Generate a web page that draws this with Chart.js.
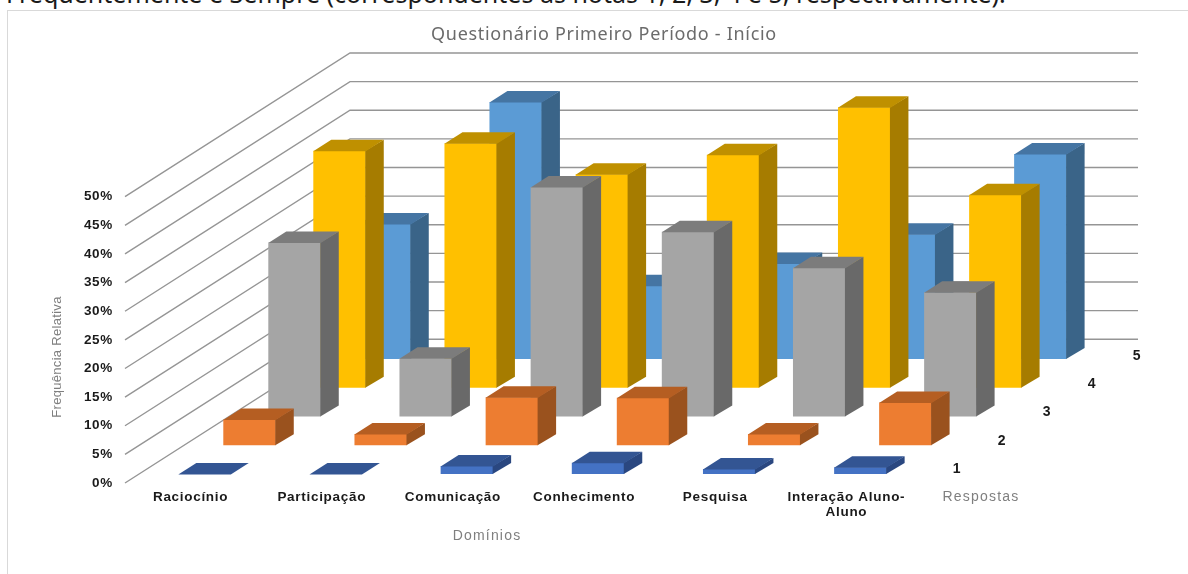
<!DOCTYPE html>
<html lang="pt">
<head>
    <meta charset="UTF-8">
    <title>Questionário Primeiro Período - Início</title>
    <script src="https://cdn.jsdelivr.net/npm/chart.js"></script>
    <style>
        html, body { margin: 0; width: 1188px; height: 574px; overflow: hidden; background: #fff; }
        #caption { position: absolute; left: 6px; top: -26px; font: 25px/38px "Noto Sans", sans-serif; color: #1a1a1a; white-space: nowrap; }
        #frame { position: absolute; left: 7px; top: 10px; width: 1200px; height: 600px; border: 1px solid #d9d9d9; box-sizing: border-box; }
        #chartBox { position: absolute; left: 0; top: 0; width: 1188px; height: 574px; }
    </style>
</head>
<body>
    <div id="frame"></div>
    <div id="caption">Frequentemente e Sempre (correspondentes às notas 1, 2, 3, 4 e 5, respectivamente).</div>
    <div id="chartBox"><canvas id="barChart" width="1188" height="574"></canvas></div>

    <script>
        // Chart data (percent)
        var dominios = ["Raciocínio", "Participação", "Comunicação", "Conhecimento", "Pesquisa", ["Interação Aluno-", "Aluno"]];
        var respostas = ["1", "2", "3", "4", "5"];
        var resposta1 = [0, 0, 1.4, 2.0, 0.9, 1.2];
        var resposta2 = [4.5, 2.0, 8.4, 8.3, 2.0, 7.5];
        var resposta3 = [30.4, 10.2, 40.1, 32.3, 26.0, 21.7];
        var resposta4 = [41.4, 42.7, 37.3, 40.7, 49.0, 33.7];
        var resposta5 = [23.6, 44.9, 12.8, 16.7, 21.8, 35.8];

        // front, top and side colour of each series
        var frontColors = ["#4472C4", "#ED7D31", "#A5A5A5", "#FFC000", "#5B9BD5"];
        var topColors = ["#335593", "#B55E22", "#7C7C7C", "#BF9000", "#4575A3"];
        var sideColors = ["#2A4780", "#9A521E", "#696969", "#A67C00", "#3A6488"];

        // Fake 3D: every series sits one step further back on the floor
        var stepX = 45, stepY = 28.75, firstRow = 0.31;
        var barDepthX = 18, barDepthY = 11;

        var depthPlugin = {
            id: "depth",
            beforeDraw: function(chart) {
                chart.ctx.letterSpacing = "0.7px";
            },
            // walls: each tick line runs back along the side wall, then along the back wall
            beforeDatasetsDraw: function(chart) {
                var ctx = chart.ctx;
                var area = chart.chartArea;
                var yScale = chart.scales.y;
                var backX = stepX * respostas.length;
                var backY = stepY * respostas.length;
                ctx.save();
                ctx.strokeStyle = "#959595";
                ctx.lineWidth = 1.4;
                yScale.ticks.forEach(function(tick) {
                    var y = yScale.getPixelForValue(tick.value);
                    ctx.beginPath();
                    ctx.moveTo(area.left, y);
                    ctx.lineTo(area.left + backX, y - backY);
                    ctx.lineTo(area.right + backX + 1, y - backY);
                    ctx.stroke();
                });
                ctx.restore();
            },
            beforeDatasetDraw: function(chart, args) {
                var row = args.index + firstRow;
                chart.ctx.save();
                chart.ctx.translate(stepX * row, -stepY * row);
            },
            afterDatasetDraw: function(chart, args) {
                var ctx = chart.ctx;
                args.meta.data.forEach(function(bar) {
                    var left = bar.x - bar.width / 2;
                    var right = bar.x + bar.width / 2;
                    // faces overlap the front by half a pixel, so no seam shows through
                    ctx.fillStyle = sideColors[args.index];
                    ctx.beginPath();
                    ctx.moveTo(right - 0.5, bar.y);
                    ctx.lineTo(right + barDepthX, bar.y - barDepthY);
                    ctx.lineTo(right + barDepthX, bar.base - barDepthY);
                    ctx.lineTo(right - 0.5, bar.base);
                    ctx.closePath();
                    ctx.fill();
                    ctx.fillStyle = topColors[args.index];
                    ctx.beginPath();
                    ctx.moveTo(left, bar.y + 0.5);
                    ctx.lineTo(left + barDepthX, bar.y - barDepthY);
                    ctx.lineTo(right + barDepthX, bar.y - barDepthY);
                    ctx.lineTo(right, bar.y + 0.5);
                    ctx.closePath();
                    ctx.fill();
                });
                ctx.restore();
            },
            // depth axis labels and the axis titles
            afterDraw: function(chart) {
                var ctx = chart.ctx;
                var area = chart.chartArea;
                ctx.save();
                ctx.textAlign = "center";
                ctx.textBaseline = "middle";
                ctx.fillStyle = "#1a1a1a";
                ctx.font = "bold 14px 'Liberation Sans'";
                respostas.forEach(function(label, i) {
                    ctx.fillText(label, area.right + 45 + stepX * i, area.bottom - 14 - 28.3 * i);
                });
                ctx.fillStyle = "#7f7f7f";
                ctx.font = "14px 'Liberation Sans'";
                ctx.letterSpacing = "1.2px";
                ctx.fillText("Respostas", 981, 497);
                ctx.fillText("Domínios", 487, 536);
                ctx.font = "13px 'Liberation Sans'";
                ctx.letterSpacing = "0.3px";
                ctx.translate(57, 357);
                ctx.rotate(-Math.PI / 2);
                ctx.fillText("Frequência Relativa", 0, 0);
                ctx.restore();
            }
        };

        function createBarChart() {
            var ctx = document.getElementById("barChart").getContext("2d");
            var series = [resposta1, resposta2, resposta3, resposta4, resposta5];

            new Chart(ctx, {
                type: "bar",
                data: {
                    labels: dominios,
                    datasets: series.map(function(values, i) {
                        return {
                            label: respostas[i],
                            data: values,
                            backgroundColor: frontColors[i],
                            clip: false
                        };
                    })
                },
                options: {
                    responsive: false,
                    animation: false,
                    grouped: false,
                    barPercentage: 0.4,
                    categoryPercentage: 1,
                    layout: { padding: { left: 20 } },
                    plugins: {
                        legend: { display: false },
                        tooltip: { enabled: false },
                        title: {
                            display: true,
                            text: "Questionário Primeiro Período - Início",
                            color: "#6b6b6b",
                            font: { family: "'Noto Sans'", size: 18, weight: "normal" },
                            padding: { top: 24, bottom: 151.1 }
                        }
                    },
                    scales: {
                        x: {
                            grid: { display: false, drawTicks: false },
                            border: { display: false },
                            ticks: {
                                color: "#1a1a1a",
                                padding: 7,
                                autoSkip: false,
                                maxRotation: 0,
                                font: { family: "'Liberation Sans'", size: 13.5, weight: "bold", lineHeight: 1.1 }
                            },
                            afterFit: function(scale) { scale.height = 91; }
                        },
                        y: {
                            min: 0,
                            max: 50,
                            grid: { display: false, drawTicks: false },
                            border: { display: false },
                            ticks: {
                                stepSize: 5,
                                padding: 12,
                                color: "#1a1a1a",
                                font: { family: "'Liberation Sans'", size: 13.5, weight: "bold" },
                                callback: function(value) { return value + "%"; }
                            },
                            afterFit: function(scale) { scale.width = 105; }
                        },
                        // empty axis, only keeps the floor short of the back wall
                        spacer: {
                            position: "right",
                            grid: { display: false, drawTicks: false },
                            border: { display: false },
                            ticks: { display: false },
                            afterFit: function(scale) { scale.width = 276; }
                        }
                    }
                },
                plugins: [depthPlugin]
            });
        }

        createBarChart();
    </script>
</body>
</html>
